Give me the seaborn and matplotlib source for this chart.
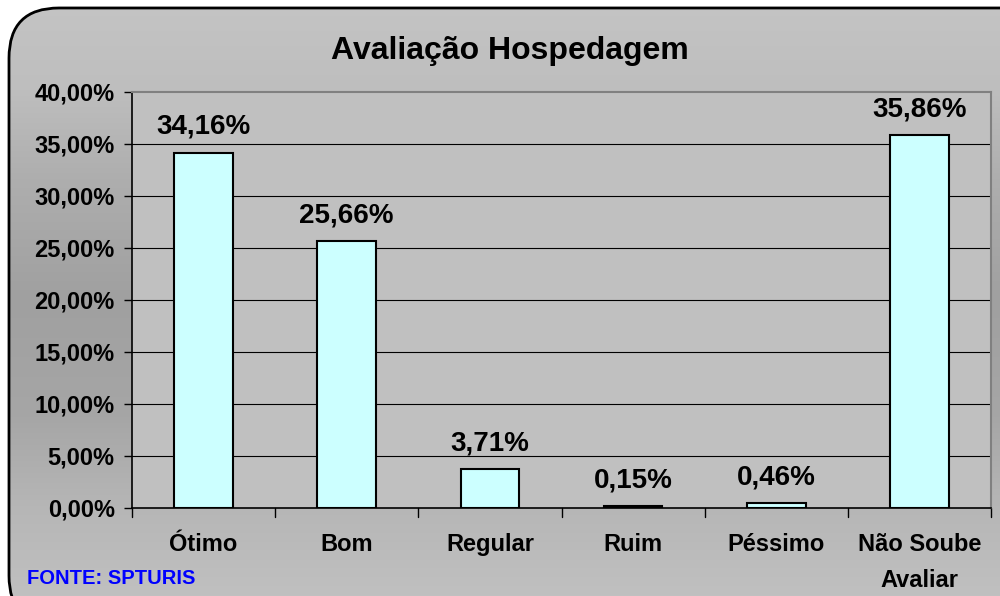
import numpy as np
import pandas as pd
import matplotlib
matplotlib.use("Agg")
import matplotlib.pyplot as plt
import seaborn as sns
from matplotlib.patches import FancyBboxPatch

categorias = ["Ótimo", "Bom", "Regular", "Ruim", "Péssimo", "Não Soube\nAvaliar"]
valores = [34.16, 25.66, 3.71, 0.15, 0.46, 35.86]
rotulos = ["34,16%", "25,66%", "3,71%", "0,15%", "0,46%", "35,86%"]
yticks = [0, 5, 10, 15, 20, 25, 30, 35, 40]
ytick_labels = ["0,00%", "5,00%", "10,00%", "15,00%", "20,00%", "25,00%", "30,00%", "35,00%", "40,00%"]

sns.set_style("white")
plt.rcParams['font.family'] = ['Liberation Sans', 'DejaVu Sans']
plt.rcParams['text.color'] = 'black'
plt.rcParams['xtick.color'] = 'black'
plt.rcParams['ytick.color'] = 'black'

df = pd.DataFrame({"cat": categorias, "val": valores})

fig = plt.figure(figsize=(10, 5.96), dpi=100)
fig.patch.set_facecolor("white")

# fundo com degrade, dentro da moldura arredondada
bg = fig.add_axes([0, 0, 1, 1], zorder=-5)
bg.set_axis_off()
bg.set_xlim(0, 1)
bg.set_ylim(0, 1)
frame = FancyBboxPatch((0.009, -0.05), 1.05, 1.0366, boxstyle="round,pad=0,rounding_size=0.05",
                       transform=bg.transAxes, facecolor="none", edgecolor="black",
                       linewidth=2, mutation_aspect=1.68, zorder=3)
bg.add_patch(frame)
fy = np.linspace(0, 1, 300)
cinza = np.interp(fy, [0, 0.15, 0.3, 0.5, 0.7, 0.85, 1.0],
                  [0xC0, 0xB6, 0xA6, 0xA0, 0xAE, 0xBE, 0xC4]) / 255.0
grad = np.repeat(cinza[:, None], 2, axis=1)
img = bg.imshow(np.dstack([grad, grad, grad]), extent=[0, 1, 0, 1], origin="lower",
                aspect="auto", zorder=1)
img.set_clip_path(frame)

ax = fig.add_axes([0.132, 0.1477, 0.859, 0.698], zorder=1)
ax.set_facecolor("#C0C0C0")

sns.barplot(data=df, x="cat", y="val", ax=ax, color="#CCFFFF", edgecolor="black",
            linewidth=1.5, width=0.41, saturation=1, zorder=3)

ax.set_ylim(0, 40)
ax.set_xlim(-0.5, 5.5)
ax.set_yticks(yticks)
ax.set_yticklabels(ytick_labels, fontsize=17, fontweight="bold")
ax.set_xticks(range(len(categorias)))
ax.set_xticklabels(categorias, fontsize=17, fontweight="bold", linespacing=1.74)
ax.tick_params(axis="x", length=0, pad=18)
ax.tick_params(axis="y", length=6, width=1, direction="out", left=True, pad=6.5)
for b in np.arange(-0.5, 6, 1):
    ax.plot([b, b], [0, -0.85], color="black", lw=1, clip_on=False)
ax.set_xlabel("")
ax.set_ylabel("")
for y in yticks[1:-1]:
    ax.axhline(y, color="black", lw=0.8, zorder=1)

for sp in ["top", "right"]:
    ax.spines[sp].set_color("#808080")
    ax.spines[sp].set_linewidth(1.5)
for sp in ["left", "bottom"]:
    ax.spines[sp].set_color("black")
    ax.spines[sp].set_linewidth(1.2)

for i, (v, t) in enumerate(zip(valores, rotulos)):
    ax.text(i, v + 1.8, t, ha="center", va="baseline", fontsize=20, fontweight="bold")

fig.text(0.51, 0.915, "Avaliação Hospedagem", ha="center", va="center",
         fontsize=23, fontweight="bold")
fig.text(0.027, 0.03, "FONTE: SPTURIS", ha="left", va="center", fontsize=14.5,
         fontweight="bold", color="#0000FF")

fig.savefig("out.png", dpi=100)
